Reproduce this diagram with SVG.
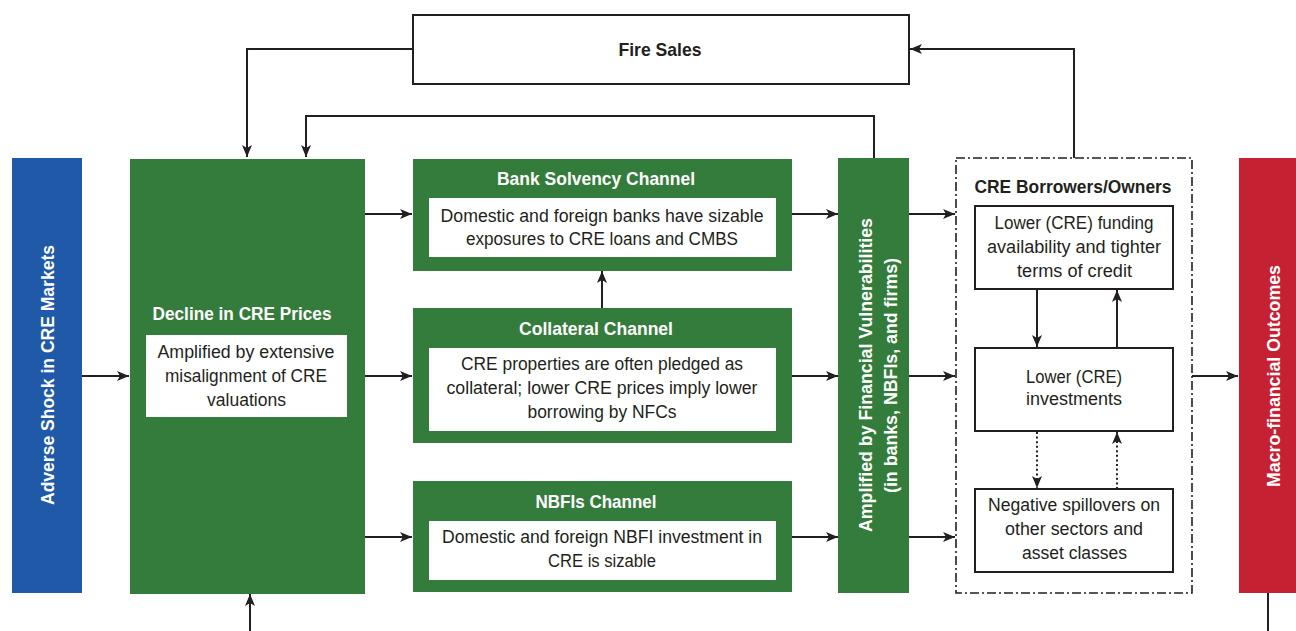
<svg xmlns="http://www.w3.org/2000/svg" width="1296" height="631" viewBox="0 0 1296 631">
<style>
.t{font-family:"Liberation Sans Narrow","Liberation Sans",Arial,sans-serif;fill:#231f20;font-size:17.5px;text-anchor:middle}
.b{font-weight:bold;font-size:18.5px}
.w{fill:#ffffff}
.g{fill:#347c3c}
.box{fill:#ffffff;stroke:#231f20;stroke-width:2}
.ln{fill:none;stroke:#231f20;stroke-width:2}
.dot{stroke-dasharray:2 2.6}
</style>
<defs>
<marker id="ah" markerUnits="userSpaceOnUse" markerWidth="14" markerHeight="12" refX="12" refY="5" orient="auto">
<path d="M0,0 L12,5 L0,10 L3,5 z" fill="#231f20"/>
</marker>
</defs>

<g id="connectors">
<path class="ln" d="M412,49 H247 V157" marker-end="url(#ah)"/>
<path class="ln" d="M874,158 V116 H306 V157" marker-end="url(#ah)"/>
<path class="ln" d="M1074,158 V49 H910" marker-end="url(#ah)"/>
<path class="ln" d="M82,376 H129" marker-end="url(#ah)"/>
<path class="ln" d="M365,214 H412" marker-end="url(#ah)"/>
<path class="ln" d="M365,376 H412" marker-end="url(#ah)"/>
<path class="ln" d="M365,537 H412" marker-end="url(#ah)"/>
<path class="ln" d="M602,308 V271" marker-end="url(#ah)"/>
<path class="ln" d="M792,214 H838" marker-end="url(#ah)"/>
<path class="ln" d="M792,376 H838" marker-end="url(#ah)"/>
<path class="ln" d="M792,537 H838" marker-end="url(#ah)"/>
<path class="ln" d="M909,214 H955" marker-end="url(#ah)"/>
<path class="ln" d="M909,376 H955" marker-end="url(#ah)"/>
<path class="ln" d="M909,537 H955" marker-end="url(#ah)"/>
<path class="ln" d="M1192,376 H1238" marker-end="url(#ah)"/>
<path class="ln" d="M1268,593 V631"/>
<path class="ln" d="M250,631 V594" marker-end="url(#ah)"/>
<path class="ln" d="M1037,289 V347" marker-end="url(#ah)"/>
<path class="ln" d="M1117,348 V290" marker-end="url(#ah)"/>
<path class="ln dot" d="M1037,432 V488" marker-end="url(#ah)"/>
<path class="ln dot" d="M1117,489 V432" marker-end="url(#ah)"/>
</g>

<g id="fire-sales">
<rect class="box" x="413" y="15" width="496" height="69"/>
<text class="t b" x="660" y="56" textLength="83" lengthAdjust="spacingAndGlyphs">Fire Sales</text>
</g>

<g id="adverse-shock">
<rect x="12" y="158" width="70" height="435" fill="#2059a8"/>
<text class="t b w" transform="translate(53.5,375) rotate(-90)" textLength="260" lengthAdjust="spacingAndGlyphs">Adverse Shock in CRE Markets</text>
</g>

<g id="decline">
<rect class="g" x="130" y="159" width="235" height="435"/>
<text class="t b w" x="242" y="320" textLength="179" lengthAdjust="spacingAndGlyphs">Decline in CRE Prices</text>
<rect x="146" y="335" width="201" height="82" fill="#ffffff"/>
<text class="t" x="246" y="358" textLength="177" lengthAdjust="spacingAndGlyphs">Amplified by extensive</text>
<text class="t" x="246" y="382" textLength="162" lengthAdjust="spacingAndGlyphs">misalignment of CRE</text>
<text class="t" x="246.5" y="406" textLength="79" lengthAdjust="spacingAndGlyphs">valuations</text>
</g>

<g id="bank-solvency">
<rect class="g" x="413" y="159" width="379" height="112"/>
<text class="t b w" x="596" y="185" textLength="198" lengthAdjust="spacingAndGlyphs">Bank Solvency Channel</text>
<rect x="429" y="198" width="347" height="59" fill="#ffffff"/>
<text class="t" x="602" y="222" textLength="323" lengthAdjust="spacingAndGlyphs">Domestic and foreign banks have sizable</text>
<text class="t" x="602" y="245" textLength="272" lengthAdjust="spacingAndGlyphs">exposures to CRE loans and CMBS</text>
</g>

<g id="collateral">
<rect class="g" x="413" y="308" width="379" height="135"/>
<text class="t b w" x="596" y="335" textLength="154" lengthAdjust="spacingAndGlyphs">Collateral Channel</text>
<rect x="429" y="348" width="347" height="83" fill="#ffffff"/>
<text class="t" x="602" y="370" textLength="282" lengthAdjust="spacingAndGlyphs">CRE properties are often pledged as</text>
<text class="t" x="602" y="394" textLength="311" lengthAdjust="spacingAndGlyphs">collateral; lower CRE prices imply lower</text>
<text class="t" x="602" y="418" textLength="149" lengthAdjust="spacingAndGlyphs">borrowing by NFCs</text>
</g>

<g id="nbfi">
<rect class="g" x="413" y="481" width="379" height="111"/>
<text class="t b w" x="596" y="508" textLength="121" lengthAdjust="spacingAndGlyphs">NBFIs Channel</text>
<rect x="429" y="521" width="347" height="59" fill="#ffffff"/>
<text class="t" x="602" y="543" textLength="320" lengthAdjust="spacingAndGlyphs">Domestic and foreign NBFI investment in</text>
<text class="t" x="602" y="567" textLength="108" lengthAdjust="spacingAndGlyphs">CRE is sizable</text>
</g>

<g id="amplified">
<rect class="g" x="838" y="158" width="71" height="435"/>
<text class="t b w" transform="translate(871.5,375) rotate(-90)" textLength="314" lengthAdjust="spacingAndGlyphs">Amplified by Financial Vulnerabilities</text>
<text class="t b w" transform="translate(896.5,375.5) rotate(-90)" textLength="235" lengthAdjust="spacingAndGlyphs">(in banks, NBFIs, and firms)</text>
</g>

<g id="cre-borrowers">
<rect x="956" y="158" width="236" height="435" fill="none" stroke="#231f20" stroke-width="1.6" stroke-dasharray="9 3 2 3"/>
<text class="t b" x="1073" y="193" textLength="197" lengthAdjust="spacingAndGlyphs">CRE Borrowers/Owners</text>
</g>

<g id="funding">
<rect class="box" x="975" y="206" width="198" height="83"/>
<text class="t" x="1074" y="229" textLength="159" lengthAdjust="spacingAndGlyphs">Lower (CRE) funding</text>
<text class="t" x="1074" y="253" textLength="174" lengthAdjust="spacingAndGlyphs">availability and tighter</text>
<text class="t" x="1074.5" y="277" textLength="115" lengthAdjust="spacingAndGlyphs">terms of credit</text>
</g>

<g id="investments">
<rect class="box" x="975" y="348" width="198" height="83"/>
<text class="t" x="1074" y="383" textLength="96" lengthAdjust="spacingAndGlyphs">Lower (CRE)</text>
<text class="t" x="1074" y="405" textLength="96" lengthAdjust="spacingAndGlyphs">investments</text>
</g>

<g id="spillovers">
<rect class="box" x="975" y="489" width="198" height="83"/>
<text class="t" x="1074" y="511" textLength="172" lengthAdjust="spacingAndGlyphs">Negative spillovers on</text>
<text class="t" x="1074" y="535" textLength="138" lengthAdjust="spacingAndGlyphs">other sectors and</text>
<text class="t" x="1074.5" y="559" textLength="105" lengthAdjust="spacingAndGlyphs">asset classes</text>
</g>

<g id="macro">
<rect x="1239" y="158" width="70" height="435" fill="#c52133"/>
<text class="t b w" transform="translate(1279.5,376) rotate(-90)" textLength="222" lengthAdjust="spacingAndGlyphs">Macro-financial Outcomes</text>
</g>
</svg>
